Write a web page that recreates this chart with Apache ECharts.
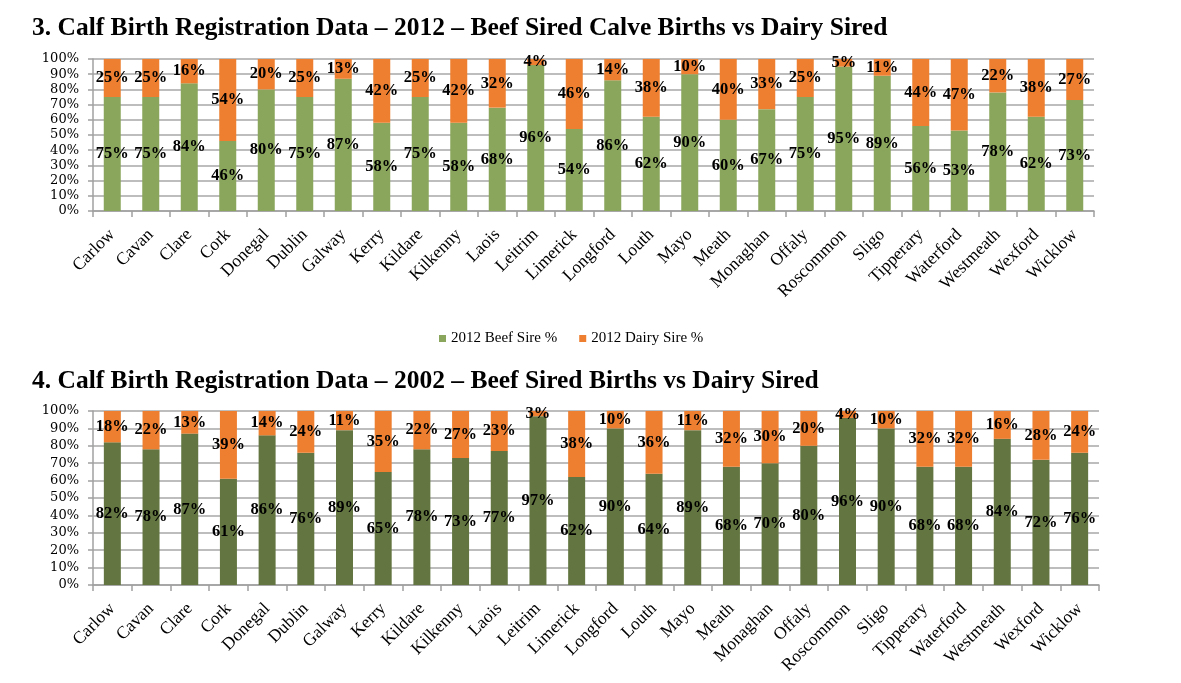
<!DOCTYPE html>
<html>
<head>
<meta charset="utf-8">
<script src="https://cdn.jsdelivr.net/npm/echarts@6/dist/echarts.min.js"></script>
<style>
html,body{margin:0;padding:0;background:#fff;}
#c{width:1181px;height:683px;}
</style>
</head>
<body>
<div id="c"></div>
<script>
const counties = ["Carlow","Cavan","Clare","Cork","Donegal","Dublin","Galway","Kerry","Kildare","Kilkenny","Laois","Leitrim","Limerick","Longford","Louth","Mayo","Meath","Monaghan","Offaly","Roscommon","Sligo","Tipperary","Waterford","Westmeath","Wexford","Wicklow"];
const beef2012 = [75,75,84,46,80,75,87,58,75,58,68,96,54,86,62,90,60,67,75,95,89,56,53,78,62,73];
const dairy2012 = [25,25,16,54,20,25,13,42,25,42,32,4,46,14,38,10,40,33,25,5,11,44,47,22,38,27];
const beef2002 = [82,78,87,61,86,76,89,65,78,73,77,97,62,90,64,89,68,70,80,96,90,68,68,84,72,76];
const dairy2002 = [18,22,13,39,14,24,11,35,22,27,23,3,38,10,36,11,32,30,20,4,10,32,32,16,28,24];
const yTicks = [0,10,20,30,40,50,60,70,80,90,100];

const title1 = "3. Calf Birth Registration Data \u2013 2012 \u2013 Beef Sired Calve Births vs Dairy Sired";
const title2 = "4. Calf Birth Registration Data \u2013 2002 \u2013 Beef Sired Births vs Dairy Sired";

const chart = echarts.init(document.getElementById('c'));
const gridLine = {show:true, lineStyle:{color:'#bdbdbd', width:1.8}};
const axisLine = {show:true, lineStyle:{color:'#a0a0a0', width:1.5}};
function xAxis(gi){
  return {type:'category', gridIndex:gi, data:counties, boundaryGap:true,
    axisLine:axisLine, axisTick:{show:true, alignWithLabel:false, length:6, lineStyle:{color:'#a0a0a0', width:1.5}},
    axisLabel:{rotate:45, interval:0, fontFamily:'Liberation Serif', fontSize:17.5, color:'#000', margin:21}};
}
function yAxis(gi){
  return {type:'value', gridIndex:gi, min:0, max:100, interval:10,
    axisLine:axisLine, axisTick:{show:true, length:5, lineStyle:{color:'#a0a0a0', width:1.5}},
    splitLine:gridLine,
    axisLabel:{formatter:'{value}%', fontFamily:'DejaVu Serif', fontSize:13, color:'#000', margin:14}};
}
const lbl = {show:true, position:'inside', formatter:'{c}%', fontFamily:'Liberation Serif', fontWeight:'bold', fontSize:16.5, color:'#000'};
function bar(name, data, color, xi){
  return {name:name, type:'bar', stack:'s'+xi, xAxisIndex:xi, yAxisIndex:xi, data:data, barWidth:17,
    itemStyle:{color:color}, label:lbl};
}
chart.setOption({
  animation:false,
  title:[
    {text:title1, left:27, top:10, textStyle:{fontFamily:'Liberation Serif', fontWeight:'bold', fontSize:25.5, color:'#000'}},
    {text:title2, left:27, top:363, textStyle:{fontFamily:'Liberation Serif', fontWeight:'bold', fontSize:25.5, color:'#000'}}
  ],
  legend:{data:['2012 Beef Sire %','2012 Dairy Sire %'], top:326, left:434, itemWidth:7, itemHeight:7, itemGap:22,
    icon:'rect', textStyle:{fontFamily:'Liberation Serif', fontSize:15, color:'#000'}},
  grid:[
    {left:93, right:87, top:59, height:152},
    {left:93, right:82, top:411, height:174}
  ],
  xAxis:[xAxis(0), xAxis(1)],
  yAxis:[yAxis(0), yAxis(1)],
  series:[
    bar('2012 Beef Sire %', beef2012, '#8aa65c', 0),
    bar('2012 Dairy Sire %', dairy2012, '#ee7f31', 0),
    bar('2002 Beef Sire %', beef2002, '#637641', 1),
    bar('2002 Dairy Sire %', dairy2002, '#ee7f31', 1)
  ]
});
</script>
</body>
</html>
